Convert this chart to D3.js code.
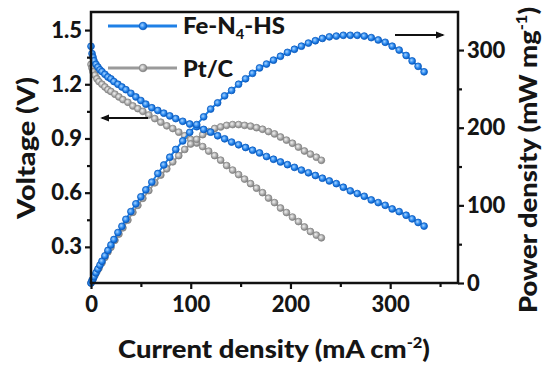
<!DOCTYPE html>
<meta charset="utf-8">
<style>
body { margin: 0; background: #fff; }
text { font-family: Lato, "Open Sans", sans-serif; font-weight: 900; fill: #151515; }
</style>
<body>
<script src="https://d3js.org/d3.v7.min.js"></script>
<script>

// Fe-N4-HS polarisation data
var feCurrent = [0, 1, 2, 3, 5, 7, 9, 11, 14, 17, 20, 23, 27, 31, 35, 40, 45, 50, 55, 61,
  67, 73, 79, 85, 92, 99, 106, 113, 120, 127, 134, 141, 148, 155, 162, 169, 176, 183, 190, 197,
  204, 211, 218, 225, 232, 239, 246, 253, 260, 267, 274, 281, 288, 295, 302, 309, 316, 322, 328, 334];
var feVoltage = [1.41, 1.37, 1.35, 1.33, 1.31, 1.295, 1.28, 1.27, 1.255, 1.24, 1.23, 1.215, 1.20, 1.185, 1.17, 1.15, 1.13, 1.11, 1.09, 1.07,
  1.055, 1.04, 1.025, 1.01, 0.995, 0.98, 0.965, 0.95, 0.935, 0.915, 0.898, 0.88, 0.865, 0.85, 0.835, 0.82, 0.80, 0.785, 0.77, 0.755,
  0.74, 0.725, 0.71, 0.695, 0.68, 0.665, 0.65, 0.63, 0.61, 0.595, 0.58, 0.56, 0.545, 0.53, 0.51, 0.495, 0.475, 0.455, 0.435, 0.415];
var fePower = [0, 3, 5, 8, 13, 18, 23, 28, 35, 42, 49, 56, 65, 73, 82, 92, 102, 111, 120, 130,
  141, 152, 162, 172, 183, 194, 204, 214, 224, 232, 241, 248, 256, 263, 270, 277, 282, 287, 292, 297,
  301, 305, 309, 312, 315, 317, 318, 319, 319, 319, 318, 316, 313, 310, 305, 300, 293, 286, 279, 272];

// Pt/C polarisation data
var ptCurrent = [0, 1, 2, 4, 6, 8, 11, 14, 17, 20, 24, 28, 32, 37, 42, 47, 52, 58, 64, 70,
  76, 82, 88, 94, 100, 106, 112, 118, 124, 130, 136, 142, 148, 154, 160, 166, 172, 178, 184, 190,
  196, 202, 208, 214, 220, 226, 231];
var ptVoltage = [1.31, 1.29, 1.27, 1.25, 1.23, 1.215, 1.20, 1.185, 1.17, 1.16, 1.145, 1.13, 1.115, 1.10, 1.08, 1.065, 1.05, 1.03, 1.01, 0.99,
  0.97, 0.955, 0.935, 0.915, 0.895, 0.875, 0.855, 0.83, 0.805, 0.78, 0.75, 0.725, 0.70, 0.675, 0.65, 0.625, 0.60, 0.57, 0.545, 0.515,
  0.49, 0.465, 0.44, 0.41, 0.385, 0.365, 0.35];
var ptPower = [0, 3, 5, 10, 15, 19, 26, 33, 40, 46, 55, 63, 71, 81, 91, 100, 109, 119, 129, 139,
  147, 156, 164, 172, 179, 185, 191, 195, 199, 201, 203, 204, 204, 203, 202, 200, 198, 195, 192, 188,
  184, 180, 175, 170, 166, 162, 158];

var xTicks = [0, 100, 200, 300];
var xMinor = [50, 150, 250, 350];
var vTicks = [0.3, 0.6, 0.9, 1.2, 1.5];
var vMinor = [0.45, 0.75, 1.05, 1.35];
var pTicks = [0, 100, 200, 300];
var pMinor = [50, 150, 250];

var width = 550, height = 368;
var margin = {left: 91, right: 92, top: 12, bottom: 85};

var svg = d3.select("body").append("svg")
    .attr("width", width)
    .attr("height", height);

var defs = svg.append("defs");
function ball(id, light, mid, dark) {
  var gr = defs.append("radialGradient").attr("id", id)
      .attr("cx", "40%").attr("cy", "40%").attr("r", "60%");
  gr.append("stop").attr("offset", "0%").attr("stop-color", light);
  gr.append("stop").attr("offset", "55%").attr("stop-color", mid);
  gr.append("stop").attr("offset", "100%").attr("stop-color", dark);
}
ball("blueBall", "#a9d4ff", "#2f8cf0", "#0b5fc4");
ball("grayBall", "#f2f2f2", "#b4b4b4", "#808080");

var x = d3.scaleLinear().domain([0, 368]).range([margin.left, width - margin.right]);
var yV = d3.scaleLinear().domain([0.1, 1.6]).range([height - margin.bottom, margin.top]);
var yP = d3.scaleLinear().domain([0, 349]).range([height - margin.bottom, margin.top]);

var x0 = margin.left, x1 = width - margin.right,
    y0 = height - margin.bottom, y1 = margin.top;

function series(cur, val, ys) {
  return cur.map(function (c, i) { return {x: x(c), y: ys(val[i])}; });
}

var plots = [
  {pts: series(ptCurrent, ptVoltage, yV), color: "#9a9a9a", grad: "grayBall", stroke: "#858585"},
  {pts: series(ptCurrent, ptPower, yP), color: "#9a9a9a", grad: "grayBall", stroke: "#858585"},
  {pts: series(feCurrent, feVoltage, yV), color: "#1f80e6", grad: "blueBall", stroke: "#0b5cc0"},
  {pts: series(feCurrent, fePower, yP), color: "#1f80e6", grad: "blueBall", stroke: "#0b5cc0"}
];

var line = d3.line().x(function (d) { return d.x; }).y(function (d) { return d.y; });

plots.forEach(function (p) {
  svg.append("path")
      .attr("d", line(p.pts))
      .attr("fill", "none")
      .attr("stroke", p.color)
      .attr("stroke-width", 2);
  svg.append("g").selectAll("circle")
      .data(p.pts)
      .enter().append("circle")
      .attr("cx", function (d) { return d.x; })
      .attr("cy", function (d) { return d.y; })
      .attr("r", 3.4)
      .attr("fill", "url(#" + p.grad + ")")
      .attr("stroke", p.stroke)
      .attr("stroke-width", 0.8);
});

// axes
var fs = 22;
var xAxis = d3.axisBottom(x).tickValues(xTicks).tickSize(6).tickPadding(7).tickFormat(d3.format("d"));
var xAxisMinor = d3.axisBottom(x).tickValues(xMinor).tickSize(4).tickFormat("");
var vAxis = d3.axisLeft(yV).tickValues(vTicks).tickSize(6).tickPadding(3).tickFormat(d3.format(".1f"));
var vAxisMinor = d3.axisLeft(yV).tickValues(vMinor).tickSize(4).tickFormat("");
var pAxis = d3.axisRight(yP).tickValues(pTicks).tickSize(6).tickPadding(3).tickFormat(d3.format("d"));
var pAxisMinor = d3.axisRight(yP).tickValues(pMinor).tickSize(4).tickFormat("");

function styleAxis(g) {
  g.select(".domain").remove();
  g.selectAll("line").attr("stroke", "#111").attr("stroke-width", 2.2);
  g.selectAll("text").attr("font-size", fs).attr("fill", "#151515")
      .style("font-family", "Lato, sans-serif").style("font-weight", "900");
}

svg.append("g").attr("transform", "translate(0," + y0 + ")").call(xAxis).call(styleAxis);
svg.append("g").attr("transform", "translate(0," + y0 + ")").call(xAxisMinor).call(styleAxis);
svg.append("g").attr("transform", "translate(" + x0 + ",0)").call(vAxis).call(styleAxis);
svg.append("g").attr("transform", "translate(" + x0 + ",0)").call(vAxisMinor).call(styleAxis);
svg.append("g").attr("transform", "translate(" + x1 + ",0)").call(pAxis).call(styleAxis);
svg.append("g").attr("transform", "translate(" + x1 + ",0)").call(pAxisMinor).call(styleAxis);

svg.append("rect")
    .attr("x", x0).attr("y", y1)
    .attr("width", x1 - x0).attr("height", y0 - y1)
    .attr("fill", "none")
    .attr("stroke", "#111")
    .attr("stroke-width", 2.5);

// axis titles
var xt = svg.append("text")
    .attr("x", 274).attr("y", 358)
    .attr("text-anchor", "middle")
    .attr("font-size", 25)
    .attr("textLength", 312)
    .attr("lengthAdjust", "spacingAndGlyphs");
xt.append("tspan").text("Current density (mA cm");
xt.append("tspan").attr("dy", -10).attr("font-size", 15).text("-2");
xt.append("tspan").attr("dy", 10).text(")");

svg.append("text")
    .attr("transform", "translate(35,148) rotate(-90)")
    .attr("text-anchor", "middle")
    .attr("font-size", 25)
    .attr("textLength", 142)
    .attr("lengthAdjust", "spacingAndGlyphs")
    .text("Voltage (V)");

var pt = svg.append("text")
    .attr("transform", "translate(537,160) rotate(-90)")
    .attr("text-anchor", "middle")
    .attr("font-size", 25)
    .attr("textLength", 306)
    .attr("lengthAdjust", "spacingAndGlyphs");
pt.append("tspan").text("Power density (mW mg");
pt.append("tspan").attr("dy", -10).attr("font-size", 15).text("-1");
pt.append("tspan").attr("dy", 10).text(")");

// legend
var legend = [
  {y: 26, color: "#1f80e6", grad: "blueBall", stroke: "#0b5cc0"},
  {y: 68, color: "#9a9a9a", grad: "grayBall", stroke: "#858585"}
];
legend.forEach(function (l) {
  svg.append("line")
      .attr("x1", 108).attr("x2", 177)
      .attr("y1", l.y).attr("y2", l.y)
      .attr("stroke", l.color).attr("stroke-width", 2.8);
  svg.append("circle")
      .attr("cx", 143).attr("cy", l.y).attr("r", 3.8)
      .attr("fill", "url(#" + l.grad + ")")
      .attr("stroke", l.stroke).attr("stroke-width", 0.8);
});
var l1 = svg.append("text").attr("x", 183).attr("y", 34).attr("font-size", 23)
    .attr("textLength", 102).attr("lengthAdjust", "spacingAndGlyphs");
l1.append("tspan").text("Fe-N");
l1.append("tspan").attr("dy", 5).attr("font-size", 14).text("4");
l1.append("tspan").attr("dy", -5).text("-HS");
svg.append("text").attr("x", 183).attr("y", 77).attr("font-size", 23)
    .attr("textLength", 50).attr("lengthAdjust", "spacingAndGlyphs")
    .text("Pt/C");

// arrows
defs.append("marker")
    .attr("id", "arrowhead")
    .attr("viewBox", "0 -5 10 10")
    .attr("refX", 8).attr("refY", 0)
    .attr("markerWidth", 5).attr("markerHeight", 5)
    .attr("orient", "auto")
    .append("path")
    .attr("d", "M0,-4L10,0L0,4Z")
    .attr("fill", "#111");

svg.append("line")
    .attr("x1", 148).attr("y1", 118).attr("x2", 102).attr("y2", 118)
    .attr("stroke", "#111").attr("stroke-width", 1.8)
    .attr("marker-end", "url(#arrowhead)");
svg.append("line")
    .attr("x1", 395).attr("y1", 35).attr("x2", 443).attr("y2", 35)
    .attr("stroke", "#111").attr("stroke-width", 1.8)
    .attr("marker-end", "url(#arrowhead)");

</script>
